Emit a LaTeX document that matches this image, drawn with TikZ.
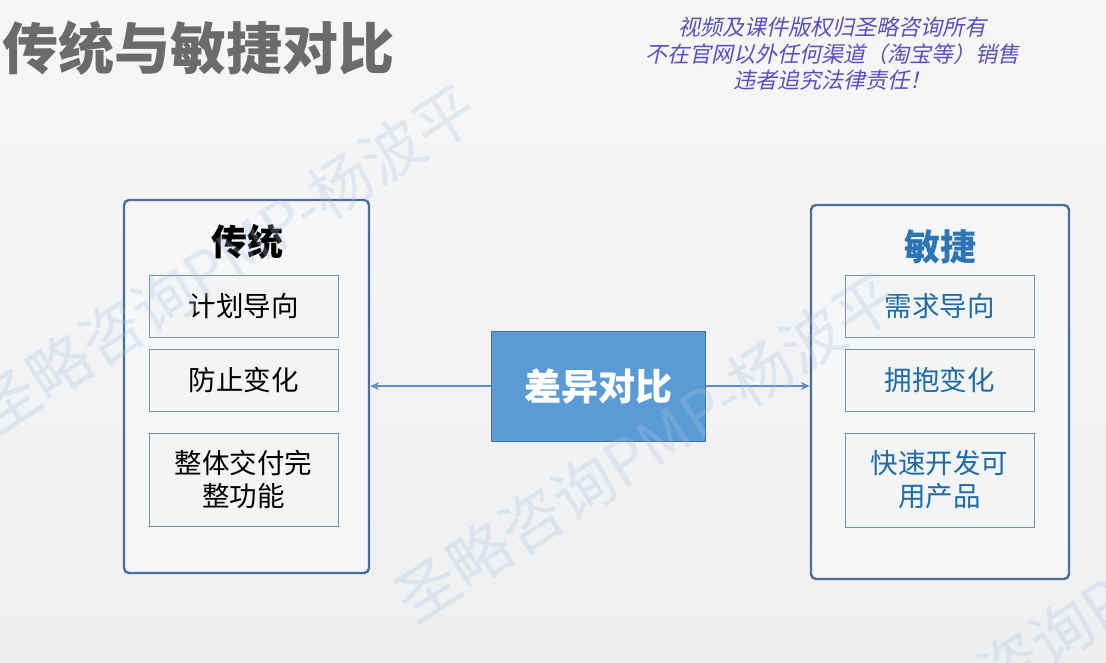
\documentclass[tikz,border=0pt]{standalone}
\usepackage{fontspec}
\usetikzlibrary{arrows.meta,calc}
\newfontfamily\cjk{Noto Sans CJK SC}
\newfontfamily\cjkslant[FakeSlant=0.22]{Noto Sans CJK SC}
\definecolor{bgtop}{HTML}{F6F6F7}
\definecolor{bgbot}{HTML}{EEEFF1}
\definecolor{titlegray}{HTML}{6B6B6B}
\definecolor{copyc}{HTML}{5A50C0}
\definecolor{outerc}{HTML}{4A6E96}
\definecolor{outerfill}{HTML}{F5F6F8}
\definecolor{itemc}{HTML}{7F8FA6}
\definecolor{itemfill}{HTML}{F3F4F6}
\definecolor{centerfill}{HTML}{5B9BD5}
\definecolor{centerdraw}{HTML}{41719C}
\definecolor{arrowc}{HTML}{5B8FCC}
\definecolor{agileblue}{HTML}{2E75B6}
\definecolor{agiletext}{HTML}{1F6BA8}
\definecolor{wmark}{HTML}{A9C3E0}
\tikzset{
  outerbox/.style={draw=outerc, line width=2.4pt, fill=outerfill, rounded corners=5pt, inner sep=0pt},
  itembox/.style={draw=itemc, line width=0.9pt, fill=itemfill, minimum width=189pt, inner sep=0pt, align=center, font=\cjk\fontsize{27.5}{33}\selectfont},
  centerbox/.style={draw=centerdraw, line width=1pt, fill=centerfill, minimum width=214pt, minimum height=110pt, inner sep=0pt, text=white, font=\cjk\bfseries\fontsize{37}{40}\selectfont},
  boxtitle/.style={inner sep=0pt, font=\cjk\bfseries\fontsize{36}{40}\selectfont},
  link/.style={draw=arrowc, line width=2.2pt, -{Stealth[length=9pt,width=8pt]}},
  watermark/.style={text=wmark, text opacity=0.28, rotate=33, anchor=west, inner sep=0pt, font=\cjk\fontsize{62}{66}\selectfont}
}
\begin{document}
\begin{tikzpicture}[x=1pt,y=-1pt]
  % background
  \shade[top color=bgtop, bottom color=bgbot] (0,0) rectangle (1106,662);
  \useasboundingbox (0,0) rectangle (1106,662);
  % title
  \node[anchor=west, inner sep=0pt, text=titlegray, font=\cjk\bfseries\fontsize{56}{60}\selectfont] (title) at (2,48) {传统与敏捷对比};
  % copyright
  \node[align=center, inner sep=0pt, text=copyc, font=\cjkslant\fontsize{22}{26.5}\selectfont] (copy) at (832,54) {视频及课件版权归圣略咨询所有\\不在官网以外任何渠道（淘宝等）销售\\违者追究法律责任！};
  % left column
  \node[outerbox, minimum width=245pt, minimum height=373pt] (L) at (246.5,386.5) {};
  \node[boxtitle, text=black] (Lt) at (247,242) {传统};
  \node[itembox, minimum height=62pt] (L1) at (243.5,306) {计划导向};
  \node[itembox, minimum height=62pt] (L2) at (243.5,380) {防止变化};
  \node[itembox, minimum height=93pt] (L3) at (243.5,479.5) {整体交付完\\整功能};
  % right column
  \node[outerbox, minimum width=258pt, minimum height=374pt] (R) at (940,392) {};
  \node[boxtitle, text=agileblue] (Rt) at (940,247) {敏捷};
  \node[itembox, minimum height=62pt, text=agiletext] (R1) at (939.5,306) {需求导向};
  \node[itembox, minimum height=62pt, text=agiletext] (R2) at (939.5,380) {拥抱变化};
  \node[itembox, minimum height=94pt, text=agiletext] (R3) at (939.5,480) {快速开发可\\用产品};
  % center
  \node[centerbox] (C) at (598,386) {差异对比};
  % connectors
  \draw[link] (C.west) -- (C.west -| L.east);
  \draw[link] (C.east) -- (C.east -| R.west);
  % watermarks (drawn over everything, faint)
  \node[watermark] (w1) at (-18,418) {圣略咨询PMP-杨波平};
  \node[watermark] (w2) at (402,606) {圣略咨询PMP-杨波平};
  \node[watermark] (w3) at (880,750) {圣略咨询PMP-杨波平};
\end{tikzpicture}
\end{document}
